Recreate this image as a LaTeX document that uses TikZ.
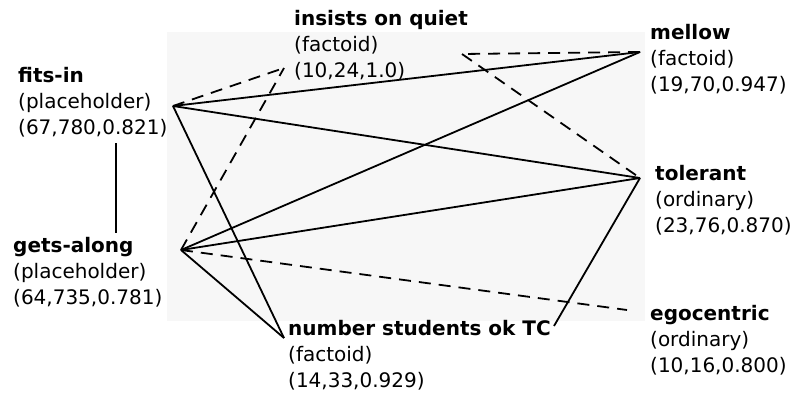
\documentclass[tikz,border=0pt]{standalone}
\usepackage{fontspec}
\setmainfont{DejaVu Sans}

\begin{document}
\begin{tikzpicture}[x=1pt,y=-1pt,
		link/.style={line width=1.8pt},
		maybe/.style={line width=1.8pt,dash pattern=on 12pt off 8pt},
		lbl/.style={anchor=base west,align=left,inner sep=0pt,
			font=\fontsize{20}{26}\selectfont}]
				\useasboundingbox (0,0) rectangle (792,393);
				\fill[black!3] (167,32) rectangle (645,321);

				% end points of the edges
				\coordinate (fitsin) at (173,106);
				\coordinate (getsalong) at (181,250);
				\coordinate (insists) at (284,68);
				\coordinate (mellow) at (640,52);
				\coordinate (tolerant) at (640,178);
				\coordinate (egocentric) at (627,310);
				\coordinate (numstud) at (284,338);
				\coordinate (quietright) at (462,54);
				\coordinate (tcend) at (554,326);
				\coordinate (linktop) at (116,143);
				\coordinate (linkbot) at (116,233);

				% labels, placed by the baseline of their last line
				\node[lbl] (fitsinlbl) at (18,135)
				{\textbf{fits-in}\\(placeholder)\\(67,780,0.821)};
				\node[lbl] (getsalonglbl) at (13,304)
				{\textbf{gets-along}\\(placeholder)\\(64,735,0.781)};
				\node[lbl] (insistslbl) at (294,78)
				{\textbf{insists on quiet}\\(factoid)\\(10,24,1.0)};
				\node[lbl] (mellowlbl) at (650,92)
				{\textbf{mellow}\\(factoid)\\(19,70,0.947)};
				\node[lbl] (tolerantlbl) at (655,232)
				{\textbf{tolerant}\\(ordinary)\\(23,76,0.870)};
				\node[lbl] (egocentriclbl) at (650,372)
				{\textbf{egocentric}\\(ordinary)\\(10,16,0.800)};
				\node[lbl] (numstudlbl) at (288,387)
				{\textbf{number students ok TC}\\(factoid)\\(14,33,0.929)};

				\foreach \a/\b in {fitsin/mellow,fitsin/tolerant,fitsin/numstud,
					getsalong/mellow,getsalong/tolerant,getsalong/numstud,tolerant/tcend}
				{
					\draw[link] (\a)--(\b);
				}

				\foreach \a/\b in {fitsin/insists,getsalong/insists,getsalong/egocentric,
					mellow/quietright,quietright/tolerant}
				{
					\draw[maybe] (\a)--(\b);
				}

				\draw[line width=2.2pt] (linktop)--(linkbot);
			\end{tikzpicture}
\end{document}
